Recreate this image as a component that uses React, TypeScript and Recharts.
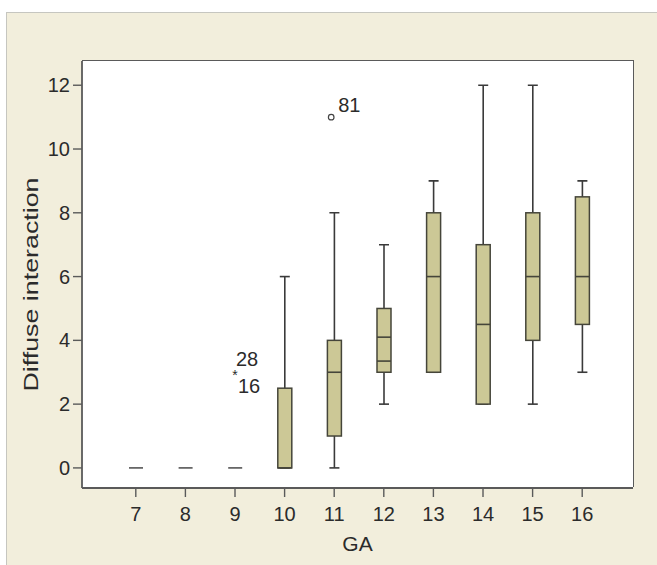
import React from "react";
import {
  ComposedChart,
  Bar,
  Scatter,
  XAxis,
  YAxis,
  CartesianGrid,
} from "recharts";

// ---- data ----
const categories = [7, 8, 9, 10, 11, 12, 13, 14, 15, 16];
const whiskerLow = [0, 0, 0, 0, 0, 2, 3, 2, 2, 3];
const quartile1 = [0, 0, 0, 0, 1, 3, 3, 2, 4, 4.5];
const medians = [0, 0, 0, 0, 3, 4.1, 6, 4.5, 6, 6];
const secondLine: (number | null)[] = [null, null, null, null, null, 3.35, null, null, null, null];
const quartile3 = [0, 0, 0, 2.5, 4, 5, 8, 7, 8, 8.5];
const whiskerHigh = [0, 0, 0, 6, 8, 7, 9, 12, 12, 9];

const yTicks = [0, 2, 4, 6, 8, 10, 12];

const mildOutliers = [{ ga: 11, value: 11, label: "81" }];
const extremeOutliers = [{ ga: 9, value: 3, labels: ["28", "16"] }];

const data = categories.map((ga, i) => ({
  ga,
  low: whiskerLow[i],
  q1: quartile1[i],
  median: medians[i],
  extra: secondLine[i],
  q3: quartile3[i],
  high: whiskerHigh[i],
}));

const FONT = '"Liberation Sans", Arial, Helvetica, sans-serif';
const TEXT = "#2b2b2b";
const AXIS = "#5a5a5a";
const BOX_FILL = "#ccc896";
const BOX_STROKE = "#45453a";
const WHISKER = "#3a3a3a";

const PLOT = { left: 82, top: 61, right: 24, bottom: 77 };
const W = 657;
const H = 565;

const BoxShape = (props: any) => {
  const { x, y, width, height, payload } = props;
  if (x == null || y == null || !payload) return null;
  const cx = x + width / 2;
  const top = Math.min(y, y + (height || 0));
  const bottom = Math.max(y, y + (height || 0));
  const lo = payload.low;
  const hi = payload.high;
  const span = hi - lo;
  const py = (v: number) =>
    span === 0 ? top : bottom - ((bottom - top) * (v - lo)) / span;
  const capHalf = 5;
  const yQ1 = py(payload.q1);
  const yQ3 = py(payload.q3);
  const yMed = py(payload.median);
  return (
    <g>
      {span > 0 && (
        <g stroke={WHISKER} strokeWidth={1.6}>
          <line x1={cx} x2={cx} y1={py(hi)} y2={py(lo)} />
          <line x1={cx - capHalf} x2={cx + capHalf} y1={py(hi)} y2={py(hi)} />
          <line x1={cx - capHalf} x2={cx + capHalf} y1={py(lo)} y2={py(lo)} />
        </g>
      )}
      {yQ1 - yQ3 > 0 && (
        <rect
          x={x}
          y={yQ3}
          width={width}
          height={yQ1 - yQ3}
          fill={BOX_FILL}
          stroke={BOX_STROKE}
          strokeWidth={1.5}
        />
      )}
      <line
        x1={x}
        x2={x + width}
        y1={yMed}
        y2={yMed}
        stroke={span === 0 ? "#555" : BOX_STROKE}
        strokeWidth={1.6}
      />
      {payload.extra != null && (
        <line
          x1={x}
          x2={x + width}
          y1={py(payload.extra)}
          y2={py(payload.extra)}
          stroke={BOX_STROKE}
          strokeWidth={1.6}
        />
      )}
    </g>
  );
};

const MildShape = (p: any) => {
  if (p.cx == null || p.cy == null) return null;
  return (
    <g>
      <circle cx={p.cx - 3} cy={p.cy} r={2.8} fill="#fff" stroke="#444" strokeWidth={1.2} />
      <text x={p.cx + 4} y={p.cy - 5} fontSize={20} fontFamily={FONT} fill={TEXT}>
        {p.payload.label}
      </text>
    </g>
  );
};

const ExtremeShape = (p: any) => {
  if (p.cx == null || p.cy == null) return null;
  const [a, b] = p.payload.labels;
  return (
    <g fontFamily={FONT} fill={TEXT}>
      <text x={p.cx} y={p.cy + 8} fontSize={14} textAnchor="middle">
        *
      </text>
      <text x={p.cx + 1} y={p.cy - 6} fontSize={20}>
        {a}
      </text>
      <text x={p.cx + 3} y={p.cy + 21} fontSize={20}>
        {b}
      </text>
    </g>
  );
};

const YTitle = (props: any) => {
  const vb = props.viewBox || { x: 0, y: 61, width: 82, height: 427 };
  const cx = vb.x + 30;
  const cy = vb.y + vb.height / 2 + 10;
  return (
    <text
      x={cx}
      y={cy}
      transform={`rotate(-90 ${cx} ${cy})`}
      textAnchor="middle"
      dominantBaseline="central"
      fontSize={21}
      fontFamily={FONT}
      fill={TEXT}
      textLength={214}
      lengthAdjust="spacingAndGlyphs"
    >
      Diffuse interaction
    </text>
  );
};

const XTitle = (props: any) => {
  const vb = props.viewBox || { x: 82, y: 488, width: 551, height: 77 };
  return (
    <text
      x={vb.x + vb.width / 2}
      y={vb.y + 63}
      textAnchor="middle"
      fontSize={21}
      fontFamily={FONT}
      fill={TEXT}
    >
      GA
    </text>
  );
};

export default function App() {
  return (
    <div
      style={{
        position: "absolute",
        left: 0,
        top: 0,
        width: W,
        height: H,
        background: "#ffffff",
        overflow: "hidden",
      }}
    >
      <div
        style={{
          position: "absolute",
          left: 6,
          top: 12,
          right: -2,
          bottom: -2,
          background: "#f2eedc",
          borderTop: "1.5px solid #c6c6c0",
          borderLeft: "1.5px solid #c6c6c0",
        }}
      />
      <div style={{ position: "absolute", left: 0, top: 0 }}>
        <ComposedChart
          width={W}
          height={H}
          data={data}
          margin={{ top: PLOT.top, right: PLOT.right, bottom: 0, left: 0 }}
        >
          <CartesianGrid fill="#ffffff" horizontal={false} vertical={false} />
          <XAxis
            dataKey="ga"
            type="category"
            allowDuplicatedCategory={false}
            padding={{ left: 29, right: 26 }}
            height={PLOT.bottom}
            tickSize={9}
            tickMargin={10}
            axisLine={{ stroke: AXIS, strokeWidth: 1.8 }}
            tickLine={{ stroke: AXIS, strokeWidth: 1.4 }}
            tick={{ fill: TEXT, fontSize: 20, fontFamily: FONT }}
            interval={0}
            label={{ content: XTitle }}
          />
          <YAxis
            type="number"
            domain={[-0.63, 12.76]}
            ticks={yTicks}
            allowDataOverflow
            width={PLOT.left}
            tickSize={9}
            tickMargin={3}
            axisLine={{ stroke: AXIS, strokeWidth: 1.8 }}
            tickLine={{ stroke: AXIS, strokeWidth: 1.4 }}
            tick={{ fill: TEXT, fontSize: 20, fontFamily: FONT }}
            label={{ content: YTitle }}
          />
          <Bar
            dataKey={(d: any) => [d.low, d.high]}
            barSize={14}
            shape={BoxShape}
            isAnimationActive={false}
          />
          <Scatter
            data={mildOutliers}
            dataKey="value"
            shape={MildShape}
            isAnimationActive={false}
          />
          <Scatter
            data={extremeOutliers}
            dataKey="value"
            shape={ExtremeShape}
            isAnimationActive={false}
          />
        </ComposedChart>
      </div>
      <div
        style={{
          position: "absolute",
          left: PLOT.left,
          top: PLOT.top - 0.9,
          width: W - PLOT.left - PLOT.right + 0.9,
          height: H - PLOT.top - PLOT.bottom,
          borderTop: `1.8px solid ${AXIS}`,
          borderRight: `1.8px solid ${AXIS}`,
          boxSizing: "border-box",
          pointerEvents: "none",
        }}
      />
    </div>
  );
}
